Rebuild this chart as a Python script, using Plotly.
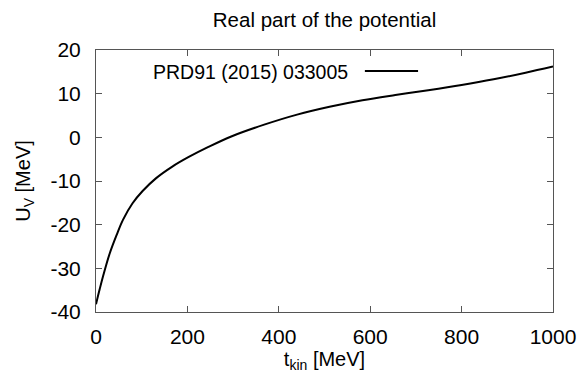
import plotly.graph_objects as go

t_kin = [0, 8, 16, 30, 45, 59, 80, 102, 131, 167, 203, 246, 296, 368, 440, 511, 583, 655, 727, 800, 870, 940, 1000]
u_v = [-38.2, -34.8, -31.6, -26.6, -22.4, -18.9, -15.1, -12.3, -9.4, -6.7, -4.5, -2.2, 0.2, 2.9, 5.2, 7.0, 8.5, 9.7, 10.8, 12.0, 13.3, 14.8, 16.2]
x_ticks = [0, 200, 400, 600, 800, 1000]
x_tick_labels = ["0", "200", "400", "600", "800", "1000"]
y_ticks = [-40, -30, -20, -10, 0, 10, 20]
y_tick_labels = ["-40", "-30", "-20", "-10", "0", "10", "20"]
series_name = "PRD91 (2015) 033005"

FONT = "Liberation Sans, Arial, sans-serif"

fig = go.Figure()
fig.add_trace(go.Scatter(x=t_kin, y=u_v, mode="lines", name=series_name,
                         line=dict(color="black", width=2, shape="spline", smoothing=1.0),
                         showlegend=False))

axis_common = dict(showline=True, linecolor="#555555", linewidth=1, mirror="ticks",
                   ticks="inside", ticklen=6, tickcolor="#555555", showgrid=False,
                   zeroline=False, tickfont=dict(family=FONT, size=21, color="black"))

fig.update_layout(
    width=588, height=377,
    margin=dict(l=96, r=28, t=50, b=65),
    paper_bgcolor="white", plot_bgcolor="white",
    title=dict(text="Real part of the potential", x=0.5, xanchor="center", y=0.948, yanchor="middle",
               xref="paper", font=dict(family=FONT, size=20.5, color="black")),
    xaxis=dict(range=[0, 1000], tickvals=x_ticks, ticktext=x_tick_labels, ticklabelstandoff=6,
               title=dict(text="t<sub>kin</sub> [MeV]", font=dict(family=FONT, size=20, color="black"), standoff=2),
               **axis_common),
    yaxis=dict(range=[-40, 20], tickvals=y_ticks, ticktext=y_tick_labels, ticklabelstandoff=10,
               title=dict(text="U<sub>V</sub> [MeV]", font=dict(family=FONT, size=20, color="black"), standoff=14),
               **axis_common),
    showlegend=False,
)

fig.add_annotation(text=series_name, xref="paper", yref="paper", x=(354 - 96) / 464, y=(312 - 72) / 262,
                   xanchor="right", yanchor="middle", showarrow=False,
                   font=dict(family=FONT, size=19.5, color="black"))
fig.add_shape(type="line", xref="paper", yref="paper", x0=(369 - 96) / 464, x1=(423 - 96) / 464,
              y0=(312 - 71) / 262, y1=(312 - 71) / 262, line=dict(color="black", width=2))

fig.write_html("out.html")
